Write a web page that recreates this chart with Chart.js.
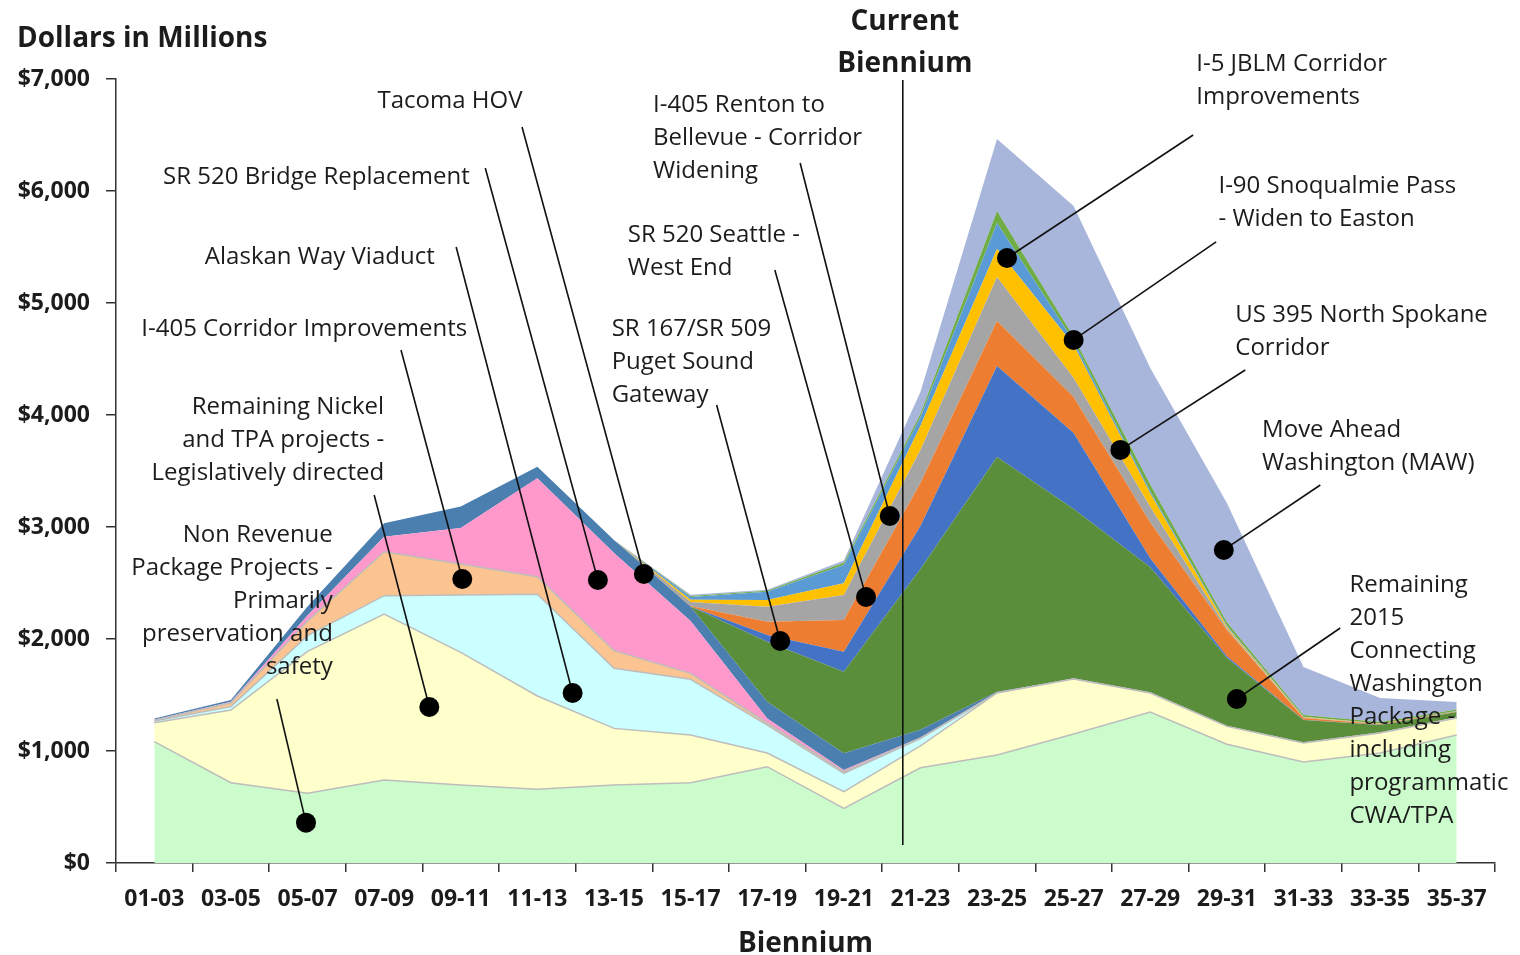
<!DOCTYPE html>
<html>
<head>
<meta charset="utf-8">
<script src="https://cdn.jsdelivr.net/npm/chart.js@4.4.1/dist/chart.umd.min.js"></script>
<style>
  html, body { margin: 0; padding: 0; background: #fff; }
</style>
</head>
<body>
<canvas id="megaProjectsChart" width="1520" height="955"></canvas>
<script>
// categories
var biennia = ['01-03', '03-05', '05-07', '07-09', '09-11', '11-13', '13-15', '15-17', '17-19',
               '19-21', '21-23', '23-25', '25-27', '27-29', '29-31', '31-33', '33-35', '35-37'];

// series, $ millions per biennium (bottom layer first)
var nonRevenue   = [1083, 717, 622, 741, 696, 658, 696, 717, 860, 488, 850, 964, 1152, 1348, 1060, 902, 982, 1143];
var nickelTpa    = [170, 649, 1268, 1482, 1184, 833, 506, 426, 122, 149, 195, 554, 491, 170, 160, 169, 179, 152];
var alaskanWay   = [15, 30, 140, 164, 513, 908, 536, 497, 250, 164, 65, 0, 0, 0, 0, 0, 0, 0];
var i405Corridor = [6, 35, 130, 392, 277, 157, 158, 53, 18, 14, 5, 0, 0, 0, 0, 0, 0, 0];
var sr520Bridge  = [6, 9, 50, 134, 321, 879, 872, 467, 40, 15, 5, 0, 0, 0, 0, 0, 0, 0];
var tacomaHov    = [10, 15, 80, 120, 191, 104, 116, 130, 150, 149, 70, 12, 0, 0, 0, 0, 0, 0];
var connectingWa = [0, 0, 0, 0, 0, 0, 0, 0, 536, 729, 1435, 2095, 1518, 1122, 610, 206, 71, 53];
var sr167Sr509   = [0, 0, 0, 0, 0, 0, 0, 0, 60, 179, 384, 812, 678, 80, 15, 3, 2, 1];
var sr520West    = [0, 0, 0, 0, 0, 0, 0, 5, 119, 283, 384, 402, 322, 320, 235, 15, 6, 3];
var i405Renton   = [0, 0, 0, 0, 0, 0, 0, 35, 134, 223, 295, 393, 170, 140, 15, 5, 2, 2];
var i90Snoqualmie= [0, 0, 0, 0, 0, 0, 0, 20, 59, 104, 214, 250, 295, 120, 15, 3, 2, 2];
var i5Jblm       = [0, 0, 0, 0, 0, 0, 0, 25, 74, 163, 78, 232, 35, 20, 10, 2, 2, 2];
var us395        = [0, 0, 0, 0, 0, 0, 0, 10, 8, 20, 29, 107, 35, 60, 30, 16, 14, 12];
var moveAhead    = [0, 0, 0, 0, 0, 0, 0, 10, 10, 20, 196, 643, 1170, 1040, 1064, 429, 213, 68];

// y axis ticks
var yTicks = [0, 1000, 2000, 3000, 4000, 5000, 6000, 7000];

var textFont = '"Open Sans", Lato, sans-serif';
var inkColor = '#1c1c1c';

function layer(label, data, color, edge) {
    return {
        label: label,
        data: data,
        backgroundColor: color,
        borderColor: edge ? '#bdbdbd' : 'rgba(0,0,0,0)',
        borderWidth: edge ? 1.5 : 1,
        fill: '-1',
        pointRadius: 0,
        tension: 0
    };
}

var datasets = [
    layer('Non Revenue Package Projects', nonRevenue, '#ccfccc', true),
    layer('Remaining Nickel and TPA projects', nickelTpa, '#ffffcc', true),
    layer('Alaskan Way Viaduct', alaskanWay, '#ccffff', true),
    layer('I-405 Corridor Improvements', i405Corridor, '#fbc491', true),
    layer('SR 520 Bridge Replacement', sr520Bridge, '#ff99cc', false),
    layer('Tacoma HOV', tacomaHov, '#4a7fb0', false),
    layer('Remaining 2015 Connecting Washington Package', connectingWa, '#5a8e3a', false),
    layer('SR 167/SR 509 Puget Sound Gateway', sr167Sr509, '#4472c4', false),
    layer('SR 520 Seattle - West End', sr520West, '#ed7d31', false),
    layer('I-405 Renton to Bellevue - Corridor Widening', i405Renton, '#a5a5a5', false),
    layer('I-90 Snoqualmie Pass - Widen to Easton', i90Snoqualmie, '#ffc000', false),
    layer('I-5 JBLM Corridor Improvements', i5Jblm, '#5b9bd5', false),
    layer('US 395 North Spokane Corridor', us395, '#70ad47', false),
    layer('Move Ahead Washington (MAW)', moveAhead, '#a8b6db', false)
];
datasets[0].fill = 'origin';

// callouts: text anchor, leader start and dot, all in chart units (category index, $ millions)
var callouts = [
    { lines: ['Tacoma HOV'], align: 'center', at: [3.86, 6805], from: [4.80, 6571], dot: [6.39, 2580] },
    { lines: ['SR 520 Bridge Replacement'], align: 'left', at: [0.115, 6127], from: [4.32, 6205], dot: [5.79, 2527] },
    { lines: ['Alaskan Way Viaduct'], align: 'left', at: [0.66, 5413], from: [3.94, 5500], dot: [5.46, 1518] },
    { lines: ['I-405 Corridor Improvements'], align: 'left', at: [-0.17, 4770], from: [3.22, 4580], dot: [4.02, 2536] },
    { lines: ['Remaining Nickel', 'and TPA projects -', 'Legislatively directed'], align: 'right', at: [3.0, 4073], from: [2.87, 3286], dot: [3.59, 1393] },
    { lines: ['Non Revenue', 'Package Projects -', 'Primarily', 'preservation and', 'safety'], align: 'right', at: [2.33, 2930], from: [1.60, 1464], dot: [1.98, 360] },
    { lines: ['I-405 Renton to', 'Bellevue - Corridor', 'Widening'], align: 'left', at: [6.51, 6770], from: [8.43, 6250], dot: [9.60, 3098] },
    { lines: ['SR 520 Seattle -', 'West End'], align: 'left', at: [6.18, 5609], from: [8.10, 5295], dot: [9.29, 2375] },
    { lines: ['SR 167/SR 509', 'Puget Sound', 'Gateway'], align: 'left', at: [5.97, 4770], from: [7.34, 4089], dot: [8.17, 1982] },
    { lines: ['I-5 JBLM Corridor', 'Improvements'], align: 'left', at: [13.60, 7136], from: [13.56, 6500], dot: [11.13, 5402] },
    { lines: ['I-90 Snoqualmie Pass', '- Widen to Easton'], align: 'left', at: [13.89, 6047], from: [13.86, 5545], dot: [12.00, 4670] },
    { lines: ['US 395 North Spokane', 'Corridor'], align: 'left', at: [14.11, 4895], from: [14.24, 4402], dot: [12.61, 3688] },
    { lines: ['Move Ahead', 'Washington (MAW)'], align: 'left', at: [14.46, 3868], from: [15.22, 3375], dot: [13.96, 2795] },
    { lines: ['Remaining', '2015', 'Connecting', 'Washington', 'Package -', 'including', 'programmatic', 'CWA/TPA'],
      align: 'left', at: [15.60, 2484], from: [15.48, 2098], dot: [14.13, 1464] }
];

// current biennium marker
var currentMarker = { x: 9.77, top: 6991, bottom: 161, lines: ['Current', 'Biennium'], labelAt: 7509 };

var calloutPlugin = {
    id: 'callouts',
    afterDatasetsDraw: function(chart) {
        var ctx = chart.ctx;
        var xs = chart.scales.x, ys = chart.scales.y;
        function px(p) { return [xs.getPixelForValue(p[0]), ys.getPixelForValue(p[1])]; }

        ctx.save();
        ctx.strokeStyle = '#111';
        ctx.fillStyle = '#000';
        ctx.lineWidth = 1.6;

        // vertical current biennium line
        var mx = xs.getPixelForValue(currentMarker.x);
        ctx.beginPath();
        ctx.moveTo(mx, ys.getPixelForValue(currentMarker.top));
        ctx.lineTo(mx, ys.getPixelForValue(currentMarker.bottom));
        ctx.stroke();

        ctx.font = 'bold 28px ' + textFont;
        ctx.fillStyle = inkColor;
        ctx.textAlign = 'center';
        ctx.textBaseline = 'middle';
        var my = ys.getPixelForValue(currentMarker.labelAt);
        currentMarker.lines.forEach(function(t, i) { ctx.fillText(t, mx + 2, my + i * 42); });

        callouts.forEach(function(c) {
            var a = px(c.from), b = px(c.dot);
            ctx.strokeStyle = '#111';
            ctx.beginPath();
            ctx.moveTo(a[0], a[1]);
            ctx.lineTo(b[0], b[1]);
            ctx.stroke();
            ctx.fillStyle = '#000';
            ctx.beginPath();
            ctx.arc(b[0], b[1], 10, 0, Math.PI * 2);
            ctx.fill();
        });

        ctx.font = '24px ' + textFont;
        ctx.fillStyle = inkColor;
        callouts.forEach(function(c) {
            var t = px(c.at);
            ctx.textAlign = c.align;
            c.lines.forEach(function(line, i) { ctx.fillText(line, t[0], t[1] + i * 33); });
        });
        ctx.restore();
    }
};

var ctx = document.getElementById('megaProjectsChart').getContext('2d');
var megaProjectsChart = new Chart(ctx, {
    type: 'line',
    data: { labels: biennia, datasets: datasets },
    options: {
        responsive: false,
        animation: false,
        layout: { padding: { left: 17, right: 25, top: 0, bottom: 0 } },
        plugins: {
            legend: { display: false },
            tooltip: { enabled: false },
            title: {
                display: true,
                text: 'Dollars in Millions',
                align: 'start',
                color: inkColor,
                font: { family: textFont, size: 28, weight: 'bold', lineHeight: 1.2 },
                padding: { top: 22, bottom: 23.4 }
            }
        },
        scales: {
            x: {
                type: 'category',
                offset: true,
                grid: { offset: true, drawOnChartArea: false, drawTicks: true, tickLength: 9, color: '#333', lineWidth: 1.5 },
                border: { display: true, color: '#333', width: 1.5 },
                ticks: { color: inkColor, padding: 14, maxRotation: 0, autoSkip: false,
                         font: { family: textFont, size: 23, weight: 'bold' } },
                title: { display: true, text: 'Biennium', color: inkColor, padding: { top: 0, bottom: 0 },
                         font: { family: textFont, size: 28, weight: 'bold', lineHeight: 0.8 } },
                afterFit: function(scale) { scale.height = 92; }
            },
            y: {
                stacked: true,
                min: 0,
                max: 7000,
                afterBuildTicks: function(scale) { scale.ticks = yTicks.map(function(v) { return { value: v }; }); },
                grid: { drawOnChartArea: false, drawTicks: true, tickLength: 10, color: '#333', lineWidth: 1.5 },
                border: { display: true, color: '#333', width: 1.5 },
                ticks: {
                    color: inkColor,
                    padding: 16,
                    font: { family: textFont, size: 23, weight: 'bold' },
                    callback: function(v) { return '$' + v.toLocaleString('en-US'); }
                },
                afterFit: function(scale) { scale.width = 99; }
            }
        }
    },
    plugins: [calloutPlugin]
});
</script>
</body>
</html>
